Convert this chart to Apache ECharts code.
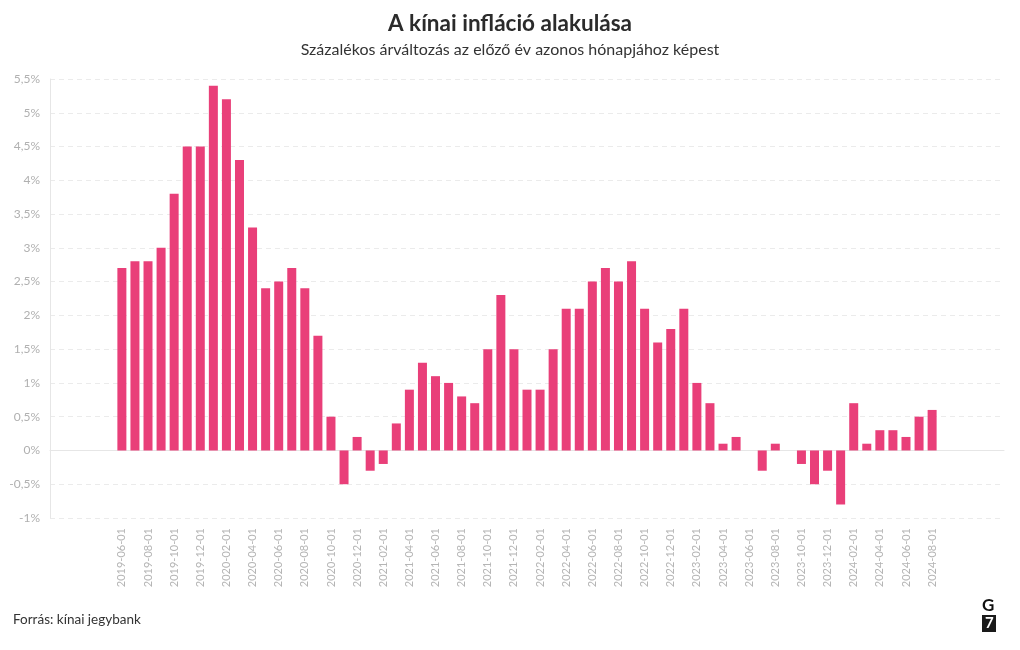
<!DOCTYPE html>
<html>
<head>
<meta charset="utf-8">
<script src="https://cdn.jsdelivr.net/npm/echarts@6/dist/echarts.min.js"></script>
<style>
html,body{margin:0;padding:0;background:#fff;}
#chart{width:1020px;height:650px;}
</style>
</head>
<body>
<div id="chart"></div>
<script>
// Data: China CPI, year-over-year % change
const months = [
  '2019-06-01','2019-07-01','2019-08-01','2019-09-01','2019-10-01','2019-11-01','2019-12-01',
  '2020-01-01','2020-02-01','2020-03-01','2020-04-01','2020-05-01','2020-06-01','2020-07-01','2020-08-01','2020-09-01','2020-10-01','2020-11-01','2020-12-01',
  '2021-01-01','2021-02-01','2021-03-01','2021-04-01','2021-05-01','2021-06-01','2021-07-01','2021-08-01','2021-09-01','2021-10-01','2021-11-01','2021-12-01',
  '2022-01-01','2022-02-01','2022-03-01','2022-04-01','2022-05-01','2022-06-01','2022-07-01','2022-08-01','2022-09-01','2022-10-01','2022-11-01','2022-12-01',
  '2023-01-01','2023-02-01','2023-03-01','2023-04-01','2023-05-01','2023-06-01','2023-07-01','2023-08-01','2023-09-01','2023-10-01','2023-11-01','2023-12-01',
  '2024-01-01','2024-02-01','2024-03-01','2024-04-01','2024-05-01','2024-06-01','2024-07-01','2024-08-01'
];
const inflation = [
  2.7, 2.8, 2.8, 3.0, 3.8, 4.5, 4.5,
  5.4, 5.2, 4.3, 3.3, 2.4, 2.5, 2.7, 2.4, 1.7, 0.5, -0.5, 0.2,
  -0.3, -0.2, 0.4, 0.9, 1.3, 1.1, 1.0, 0.8, 0.7, 1.5, 2.3, 1.5,
  0.9, 0.9, 1.5, 2.1, 2.1, 2.5, 2.7, 2.5, 2.8, 2.1, 1.6, 1.8,
  2.1, 1.0, 0.7, 0.1, 0.2, 0.0, -0.3, 0.1, 0.0, -0.2, -0.5, -0.3,
  -0.8, 0.7, 0.1, 0.3, 0.3, 0.2, 0.5, 0.6
];
const padBefore = ['2019-01-01','2019-02-01','2019-03-01','2019-04-01','2019-05-01'];
const padAfter = ['2024-09-01','2024-10-01','2024-11-01','2024-12-01','2025-01-01'];
const yTicks = { min: -1, max: 5.5, step: 0.5 };

const categories = padBefore.concat(months, padAfter);
const values = padBefore.map(() => null).concat(inflation, padAfter.map(() => null));
const first = padBefore.length, last = padBefore.length + months.length - 1;

const FONT = 'Lato, "Noto Sans", sans-serif';
const chart = echarts.init(document.getElementById('chart'), null, {renderer: 'canvas'});
chart.setOption({
  backgroundColor: '#ffffff',
  animation: false,
  title: [{
    text: 'A kínai infláció alakulása',
    left: 'center', top: 7,
    textStyle: {fontFamily: FONT, fontSize: 22.5, fontWeight: 'bold', color: '#2b2b2b'}
  }, {
    text: 'Százalékos árváltozás az előző év azonos hónapjához képest',
    left: 'center', top: 37,
    textStyle: {fontFamily: FONT, fontSize: 16, fontWeight: 'normal', color: '#333'}
  }, {
    text: 'Forrás: kínai jegybank',
    left: 8, top: 608,
    textStyle: {fontFamily: FONT, fontSize: 13.5, fontWeight: 'normal', color: '#333'}
  }],
  grid: {left: 50, right: 16, top: 79, bottom: 132, containLabel: false},
  xAxis: {
    type: 'category',
    data: categories,
    boundaryGap: true,
    axisLine: {lineStyle: {color: '#e6e6e6'}},
    axisTick: {
      alignWithLabel: true,
      length: 6,
      lineStyle: {color: '#e6e6e6'},
      interval: (i) => i >= first && i <= last
    },
    axisLabel: {
      rotate: 90,
      margin: 10,
      color: '#b5b5b5',
      fontFamily: FONT,
      fontSize: 11,
      interval: (i) => i >= first && i <= last && (i - first) % 2 === 0
    },
    splitLine: {show: false}
  },
  yAxis: {
    type: 'value',
    min: yTicks.min, max: yTicks.max, interval: yTicks.step,
    axisLine: {show: true, lineStyle: {color: '#e6e6e6'}},
    axisTick: {show: false},
    axisLabel: {
      color: '#b0b0b0', fontFamily: FONT, fontSize: 12, margin: 10,
      formatter: (v) => String(Math.round(v * 10) / 10).replace('.', ',') + '%'
    },
    splitLine: {lineStyle: {color: '#ebebeb', type: [5, 4]}}
  },
  series: [{
    type: 'bar',
    data: values,
    barWidth: 9,
    itemStyle: {color: '#e93f79'}
  }],
  graphic: [
    {type: 'text', left: 982, top: 597, style: {text: 'G', fontFamily: FONT, fontSize: 17, fontWeight: 'bold', fill: '#111'}},
    {type: 'rect', left: 982, top: 615, shape: {width: 14, height: 17}, style: {fill: '#1a1a1a'}},
    {type: 'text', left: 985, top: 616, style: {text: '7', fontFamily: FONT, fontSize: 15, fontWeight: 'bold', fill: '#fff'}}
  ]
});
</script>
</body>
</html>
